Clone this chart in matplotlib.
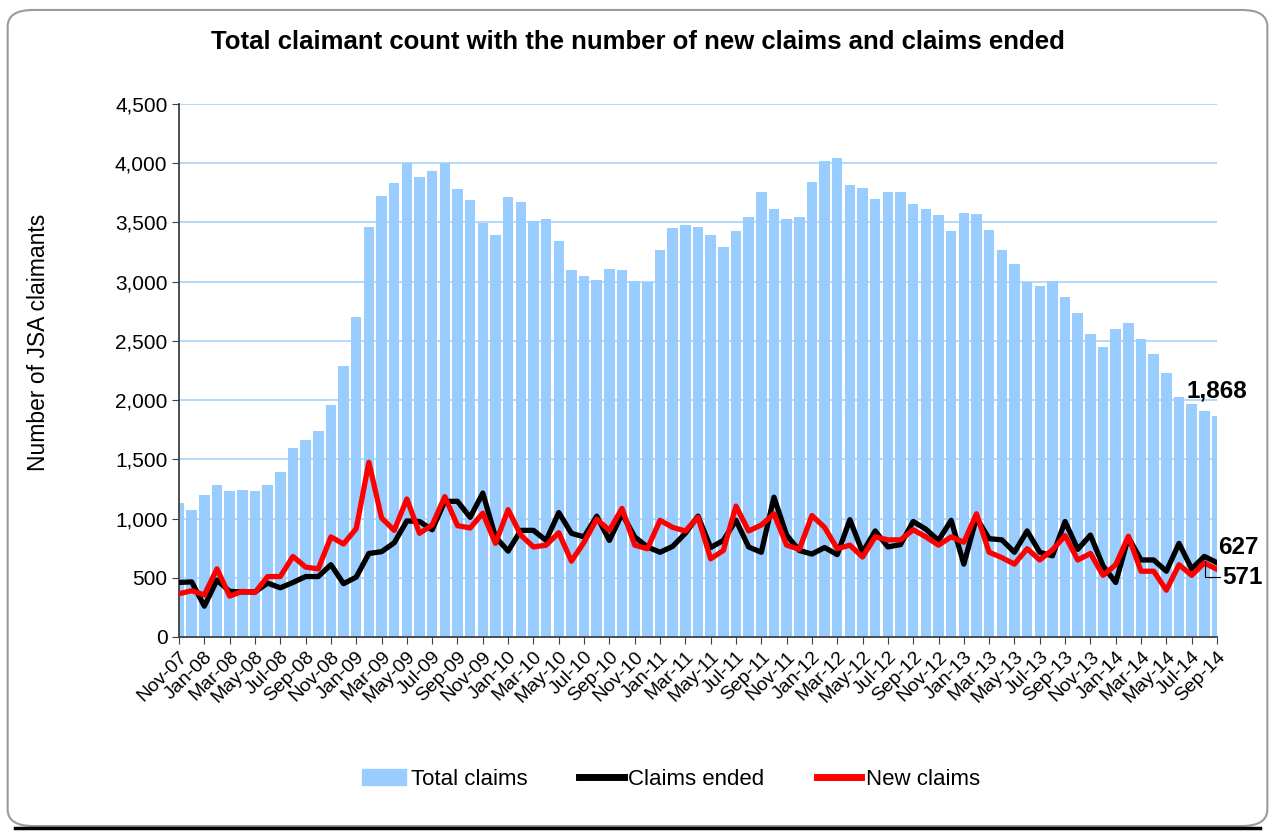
import numpy as np
import pandas as pd
import matplotlib.pyplot as plt
from matplotlib.patches import Patch, FancyBboxPatch
from matplotlib.lines import Line2D
from matplotlib.ticker import FuncFormatter

plt.rcParams['font.family'] = ['Liberation Sans', 'DejaVu Sans']

# mois de Nov-07 a Sep-14
mois = pd.date_range('2007-11-01', '2014-09-01', freq='MS').strftime('%b-%y').tolist()

total_claims = [1130, 1075, 1195, 1280, 1235, 1240, 1235, 1280, 1395, 1595,
                1665, 1735, 1960, 2290, 2700, 3460, 3720, 3830, 4000, 3880,
                3930, 4000, 3780, 3685, 3495, 3390, 3715, 3675, 3510, 3525,
                3345, 3100, 3045, 3015, 3110, 3100, 3005, 2995, 3270, 3450,
                3480, 3460, 3390, 3290, 3430, 3545, 3760, 3610, 3525, 3545,
                3845, 4015, 4045, 3820, 3790, 3695, 3760, 3760, 3655, 3610,
                3560, 3430, 3580, 3570, 3440, 3270, 3150, 2995, 2960, 3005,
                2870, 2735, 2560, 2445, 2600, 2650, 2515, 2385, 2225, 2030,
                1970, 1910, 1868]

claims_ended = [460, 465, 260, 480, 385, 380, 380, 455, 415, 460,
                510, 510, 610, 450, 505, 705, 720, 795, 980, 975,
                905, 1145, 1145, 1010, 1215, 845, 725, 900, 900, 815,
                1050, 875, 845, 1020, 815, 1040, 845, 760, 715, 765,
                875, 1020, 755, 815, 985, 760, 715, 1180, 860, 730,
                700, 755, 695, 990, 715, 895, 760, 780, 975, 910,
                815, 985, 615, 1005, 830, 820, 715, 895, 715, 685,
                975, 740, 860, 600, 460, 840, 650, 650, 555, 790,
                575, 680, 627]

new_claims = [365, 390, 355, 575, 345, 385, 375, 510, 510, 680,
              590, 575, 845, 785, 915, 1475, 1005, 900, 1165, 875,
              945, 1185, 940, 920, 1045, 790, 1075, 860, 760, 775,
              880, 640, 800, 995, 900, 1085, 775, 745, 985, 925,
              895, 1010, 660, 730, 1105, 895, 945, 1040, 775, 740,
              1025, 925, 745, 775, 675, 845, 820, 820, 905, 845,
              775, 845, 800, 1040, 715, 670, 615, 745, 650, 735,
              855, 650, 705, 520, 610, 850, 555, 555, 395, 610,
              520, 625, 571]

bleu = '#99CCFF'
x = np.arange(len(mois))

fig = plt.figure(figsize=(12.75, 8.31), dpi=100)

# cadre arrondi autour du graphique
cadre = FancyBboxPatch((0.006, 0.006), 0.988, 0.982, boxstyle='round,pad=0,rounding_size=0.02',
                       transform=fig.transFigure, facecolor='none', edgecolor='#9a9a9a',
                       linewidth=1.5, zorder=0)
fig.patches.append(cadre)
fig.add_artist(Line2D([0.012, 0.988], [0.004, 0.004], transform=fig.transFigure,
                      color='black', lw=2.5))

ax = fig.add_axes([0.1404, 0.2335, 0.8141, 0.6414])
ax.set_facecolor('none')

ax.bar(x, total_claims, width=0.83, color=bleu, zorder=2, label='Total claims')
ax.plot(x, claims_ended, color='black', lw=3.8, zorder=3, label='Claims ended')
ax.plot(x, new_claims, color='#FF0000', lw=3.8, zorder=4, label='New claims')

ax.set_xlim(0, len(mois) - 1)
ax.set_ylim(0, 4500)
ax.set_yticks(np.arange(0, 4501, 500))
ax.yaxis.set_major_formatter(FuncFormatter(lambda v, p: f'{int(v):,}'))
ax.grid(axis='y', color='#A9D3FA', lw=1.2, zorder=0)
ax.set_axisbelow(True)

ax.set_xticks(x[::2])
ax.set_xticklabels(mois[::2], rotation=45, ha='right', rotation_mode='anchor', fontsize=14)
ax.tick_params(axis='y', labelsize=15, length=5, color='#404040', pad=3.3)
ax.tick_params(axis='x', length=5, color='#404040', pad=3)

for s in ['top', 'right']:
    ax.spines[s].set_visible(False)
for s in ['left', 'bottom']:
    ax.spines[s].set_color('#404040')
    ax.spines[s].set_linewidth(1.3)

ax.set_ylabel('Number of JSA claimants', fontsize=16.5)
ax.yaxis.set_label_coords(-0.124, 0.553)

# etiquettes des dernieres valeurs
ax.text(82, 2075, '1,868', fontsize=17.5, fontweight='bold', ha='center', va='center', clip_on=False)
ax.text(82.1, 756, '627', fontsize=17.5, fontweight='bold', ha='left', va='center', clip_on=False)
ax.text(82.4, 500, '571', fontsize=17.5, fontweight='bold', ha='left', va='center', clip_on=False)
ax.plot([81.05, 81.05, 82.2], [640, 510, 510], color='black', lw=0.8, clip_on=False, zorder=5)

fig.text(0.5, 0.949, 'Total claimant count with the number of new claims and claims ended',
         fontsize=18.5, fontweight='bold', ha='center', va='center')

poignees = [Patch(color=bleu), Line2D([], [], color='black', lw=5), Line2D([], [], color='#FF0000', lw=5)]
fig.legend(poignees, ['Total claims', 'Claims ended', 'New claims'], loc='center',
           bbox_to_anchor=(0.526, 0.062), ncol=3, frameon=False, fontsize=16,
           handlelength=2.0, handletextpad=0.2, columnspacing=2.35)

fig.savefig('out.png', dpi=100)
